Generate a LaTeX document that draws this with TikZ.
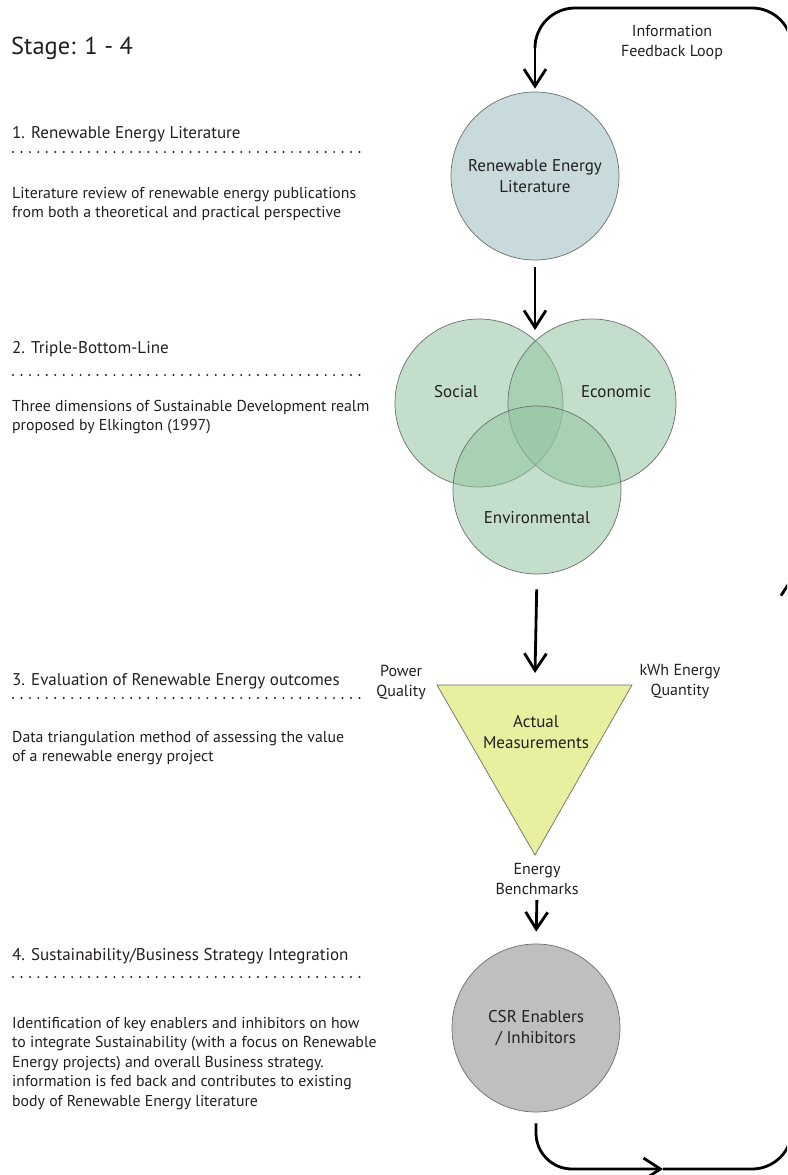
\documentclass[tikz,border=0pt]{standalone}
\usepackage{fontspec}
\setmainfont{PT Sans}
\usetikzlibrary{arrows.meta}
\definecolor{txt}{HTML}{231F20}
\definecolor{relfill}{HTML}{C8DADC}
\definecolor{vennfill}{HTML}{92C5A0}
\definecolor{trifill}{HTML}{E8EF9E}
\definecolor{csrfill}{HTML}{BFBFBF}
\definecolor{edge}{HTML}{6E6E6E}
\tikzset{
  barb/.tip={Straight Barb[length=17pt,width=22pt]},
  conn/.style={line width=2.8pt, -barb, draw=black},
  loopline/.style={line width=2.8pt, draw=black},
  bigcirc/.style={circle, minimum size=168pt, inner sep=0pt, draw=edge, line width=0.7pt, align=center, font=\fontsize{17}{21}\selectfont, text=txt},
  venncirc/.style={circle, minimum size=168pt, inner sep=0pt, draw=edge, line width=0.7pt, fill=vennfill, fill opacity=0.55},
  lbl/.style={inner sep=0pt, align=center, font=\fontsize{17}{21}\selectfont, text=txt},
  small/.style={inner sep=0pt, align=center, font=\fontsize{16}{20}\selectfont, text=txt},
  header/.style={inner sep=0pt, anchor=base west, font=\fontsize{17}{20}\selectfont, text=txt},
  desc/.style={inner sep=0pt, anchor=base west, align=left, font=\fontsize{15.8}{19.6}\selectfont, text=txt},
  dots/.style={line width=2.2pt, line cap=round, dash pattern=on 0pt off 8.45pt, draw=txt}
}
\begin{document}
\begin{tikzpicture}[x=1pt,y=-1pt]
\useasboundingbox (0,0) rectangle (787,1175);
\clip (0,0) rectangle (787,1175);

% Title
\node[inner sep=0pt, anchor=base west, font=\fontsize{24.5}{30}\selectfont, text=txt] (stage) at (11,54) {Stage: 1 - 4};

% Section 1 (desc nodes anchored at the baseline of their last line)
\node[header] (h1) at (12,138) {1. Renewable Energy Literature};
\coordinate (d1a) at (13,152); \coordinate (d1b) at (360,152);
\draw[dots] (d1a) -- (d1b);
\node[desc] (t1) at (12,217.6) {Literature review of renewable energy publications\\from both a theoretical and practical perspective};

% Section 2
\node[header] (h2) at (12,353) {2. Triple-Bottom-Line};
\coordinate (d2a) at (13,375); \coordinate (d2b) at (360,375);
\draw[dots] (d2a) -- (d2b);
\node[desc] (t2) at (12,430.6) {Three dimensions of Sustainable Development realm\\proposed by Elkington (1997)};

% Section 3
\node[header] (h3) at (12,685) {3. Evaluation of Renewable Energy outcomes};
\coordinate (d3a) at (13,698); \coordinate (d3b) at (360,698);
\draw[dots] (d3a) -- (d3b);
\node[desc] (t3) at (12,761.6) {Data triangulation method of assessing the value\\of a renewable energy project};

% Section 4
\node[header] (h4) at (12,960) {4. Sustainability/Business Strategy Integration};
\coordinate (d4a) at (13,977); \coordinate (d4b) at (360,977);
\draw[dots] (d4a) -- (d4b);
\node[desc] (t4) at (12,1106.4) {Identification of key enablers and inhibitors on how\\to integrate Sustainability (with a focus on Renewable\\Energy projects) and overall Business strategy.\\information is fed back and contributes to existing\\body of Renewable Energy literature};

% Stage 1 circle
\node[bigcirc, fill=relfill] (rel) at (535,176) {Renewable Energy\\Literature};

% Venn
\node[venncirc] (soc) at (479,403) {};
\node[venncirc] (eco) at (592,403) {};
\node[venncirc] (env) at (537,490) {};
\node[lbl] (socl) at (456,392) {Social};
\node[lbl] (ecol) at (616,392) {Economic};
\node[lbl] (envl) at (537,518) {Environmental};
\coordinate (vtop) at (535,330);

% Triangle
\coordinate (tA) at (437,685);
\coordinate (tB) at (632,685);
\coordinate (tC) at (535,855);
\filldraw[fill=trifill, draw=edge, line width=0.7pt] (tA) -- (tB) -- (tC) -- cycle;
\coordinate (ttop) at (535,673);
\node[lbl] (act) at (536,732) {Actual\\Measurements};
\node[small, anchor=east] (pq) at (426,682) {Power\\Quality};
\node[small] (kwh) at (680,682) {kWh Energy\\Quantity};
\node[small] (bench) at (537,879) {Energy\\Benchmarks};

% CSR
\node[bigcirc, fill=csrfill] (csr) at (536,1028) {CSR Enablers\\/ Inhibitors};

% Main arrows
\draw[conn, shorten <=7pt] (rel.south) -- (vtop);
\draw[conn, shorten <=15pt] (env.south) -- (ttop);
\draw[conn, shorten <=5pt, shorten >=12pt] (bench.south) -- (csr.north);

% Feedback loop
\coordinate (bmid) at (663,1169);
\coordinate (rmid) at (792,576);
\coordinate (topl) at (535,8);
\draw[loopline, rounded corners=36pt, shorten <=11pt, -barb] (csr.south) |- (bmid);
\draw[loopline, rounded corners=40pt, -barb] (bmid) -| (rmid);
\draw[loopline, rounded corners=40pt] (rmid) |- (topl) -- ++(0,40);
\draw[conn, shorten >=3pt] (535,40) -- (rel.north);
\node[small] (fbl) at (672,42) {Information\\Feedback Loop};
\end{tikzpicture}
\end{document}
